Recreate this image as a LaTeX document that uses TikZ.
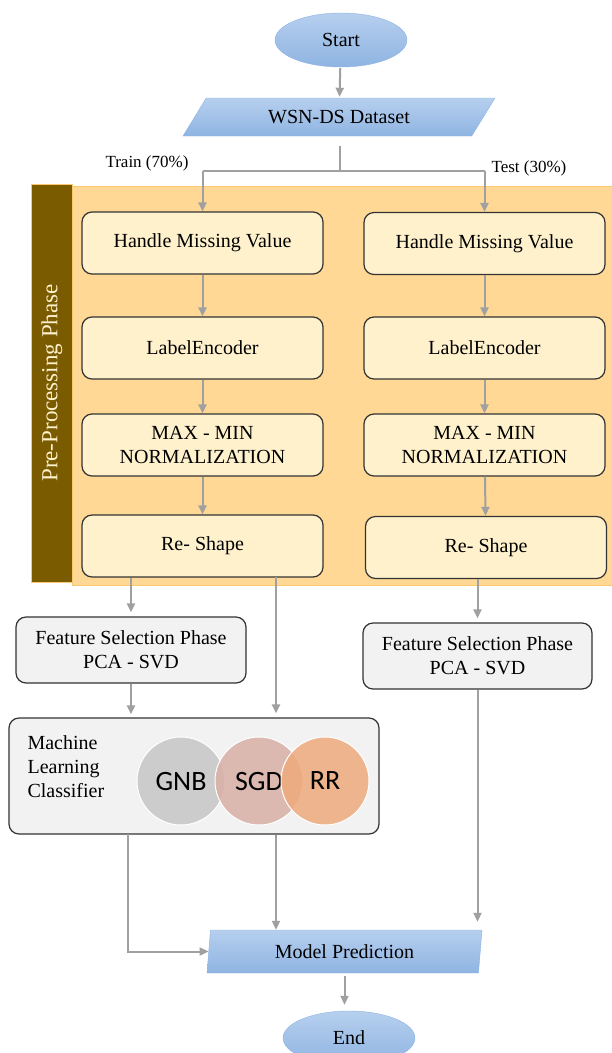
\documentclass[tikz,border=0pt]{standalone}
\usepackage{fontspec}
\setmainfont{Liberation Serif}
\newfontfamily\clsfont{Carlito}
\usetikzlibrary{shapes.geometric,arrows.meta}
\definecolor{flowtop}{RGB}{182,207,238}
\definecolor{flowbot}{RGB}{143,180,226}
\definecolor{flowedge}{RGB}{140,180,226}
\definecolor{phaseor}{RGB}{254,216,148}
\definecolor{phaseedge}{RGB}{250,200,110}
\definecolor{phasebar}{RGB}{122,91,0}
\definecolor{cream}{RGB}{254,241,204}
\definecolor{lightbox}{RGB}{242,242,242}
\definecolor{arrgray}{RGB}{160,160,160}
\definecolor{gnbcol}{RGB}{198,198,198}
\definecolor{sgdcol}{RGB}{216,176,166}
\definecolor{rrcol}{RGB}{238,170,124}
\begin{document}
\begin{tikzpicture}[x=1pt,y=-1pt,
            every node/.style={font=\fontsize{20}{24}\selectfont},
            term/.style={ellipse,draw=flowedge,top color=flowtop,bottom color=flowbot,
             minimum width=132pt,minimum height=54pt,inner sep=1pt},
            iobox/.style={trapezium,trapezium stretches body,draw=flowedge,
             top color=flowtop,bottom color=flowbot,inner sep=2pt},
            prebox/.style={draw=black!80,line width=1.2pt,rounded corners=10pt,fill=cream,
             minimum width=241pt,minimum height=62pt,align=center,inner sep=1pt},
            selbox/.style={draw=black!80,line width=1.2pt,rounded corners=10pt,fill=lightbox,
             minimum width=230pt,minimum height=66pt,align=center,inner sep=1pt},
            algo/.style={circle,draw=white,line width=1pt,fill opacity=.85,text opacity=1,
             minimum size=88pt,inner sep=0pt,font=\clsfont\fontsize{28}{30}\selectfont},
            arr/.style={draw=arrgray,line width=2pt,-{Triangle[length=9pt,width=8pt]}},
            link/.style={draw=arrgray,line width=2pt}]
            \useasboundingbox (0,0) rectangle (612,1053);
            \fill[phaseor,draw=phaseedge] (72,186) rectangle (612,585);
            \draw (52,383) node[draw=phaseedge,fill=phasebar,minimum width=398pt,minimum height=41pt,
             rotate=90,text=cream,font=\fontsize{23}{26}\selectfont] (bar) {Pre-Processing Phase};
            \draw (341,40) node[term] (start) {Start};
            \draw (339,117) node[iobox,trapezium left angle=37,trapezium right angle=143,
             minimum width=312pt,minimum height=38pt] (data) {WSN-DS Dataset};
            \coordinate (split) at (340,171);
            \draw (192,163) node[anchor=east,font=\fontsize{17}{20}\selectfont] (train) {Train (70\%)};
            \draw (488,168) node[anchor=west,font=\fontsize{17}{20}\selectfont] (test) {Test (30\%)};
            \draw (202.5,243) node[prebox] (hmvL) {Handle Missing Value};
            \draw (202.5,348) node[prebox] (leL) {LabelEncoder};
            \draw (202.5,445) node[prebox] (mmL) {MAX - MIN\\NORMALIZATION};
            \draw (202.5,546) node[prebox] (rsL) {Re- Shape};
            \draw (484.5,243.5) node[prebox] (hmvR) {Handle Missing Value};
            \draw (484.5,348) node[prebox] (leR) {LabelEncoder};
            \draw (484.5,445) node[prebox] (mmR) {MAX - MIN\\NORMALIZATION};
            \draw (486,547.5) node[prebox] (rsR) {Re- Shape};
            \draw (131,650) node[selbox] (fsL) {Feature Selection Phase\\PCA - SVD};
            \draw (477.5,656) node[selbox,minimum width=229pt] (fsR) {Feature Selection Phase\\PCA - SVD};
            \draw (194,776) node[selbox,minimum width=370pt,minimum height=116pt] (ml) {};
            \draw (24,767) node[anchor=west,align=left,font=\fontsize{20}{24}\selectfont] (mltext)
             {Machine\\Learning\\Classifier};
            \draw (181,781) node[algo,fill=gnbcol] (gnb) {GNB};
            \draw (259,781) node[algo,fill=sgdcol] (sgd) {SGD};
            \draw (325,781) node[algo,fill=rrcol] (rr) {RR};
            \draw (344.5,951.5) node[iobox,trapezium left angle=79,trapezium right angle=101,
             minimum width=275pt,minimum height=43pt] (mp) {Model Prediction};
            \draw (349,1038) node[term] (end) {End};
            \coordinate (trainb) at (276,577);
            \coordinate (mlout) at (128,834);
            \draw[arr,shorten <=1pt,shorten >=1pt] (start) -- (data);
            \draw[link,shorten <=10pt] (data.south -| split) -- (split);
            \draw[link] (split) -- (hmvL.north |- split) (split) -- (hmvR.north |- split);
            \draw[arr] (hmvL.north |- split) -- (hmvL.north);
            \draw[arr] (hmvR.north |- split) -- (hmvR.north);
            \draw[arr] (hmvL) -- (leL);
            \draw[arr] (leL) -- (mmL);
            \draw[arr] (mmL) -- (rsL);
            \draw[arr] (hmvR) -- (leR);
            \draw[arr] (leR) -- (mmR);
            \draw[arr] (mmR) -- (rsR);
            \draw[arr,shorten >=4pt] (fsL.north |- rsL.south) -- (fsL.north);
            \draw[arr,shorten >=4pt] (fsR.north |- rsR.south) -- (fsR.north);
            \draw[arr,shorten >=4pt] (trainb) -- (trainb |- ml.north);
            \draw[arr,shorten >=3pt] (fsL.south) -- (fsL.south |- ml.north);
            \draw[arr] (mlout) |- (mp.west);
            \draw[arr] (trainb |- ml.south) -- (trainb |- mp.north);
            \draw[arr,shorten >=8pt] (fsR.south) -- (fsR.south |- mp.north);
            \draw[arr,shorten <=3pt,shorten >=6pt] (mp.south) -- (mp.south |- end.north);
        \end{tikzpicture}
\end{document}
